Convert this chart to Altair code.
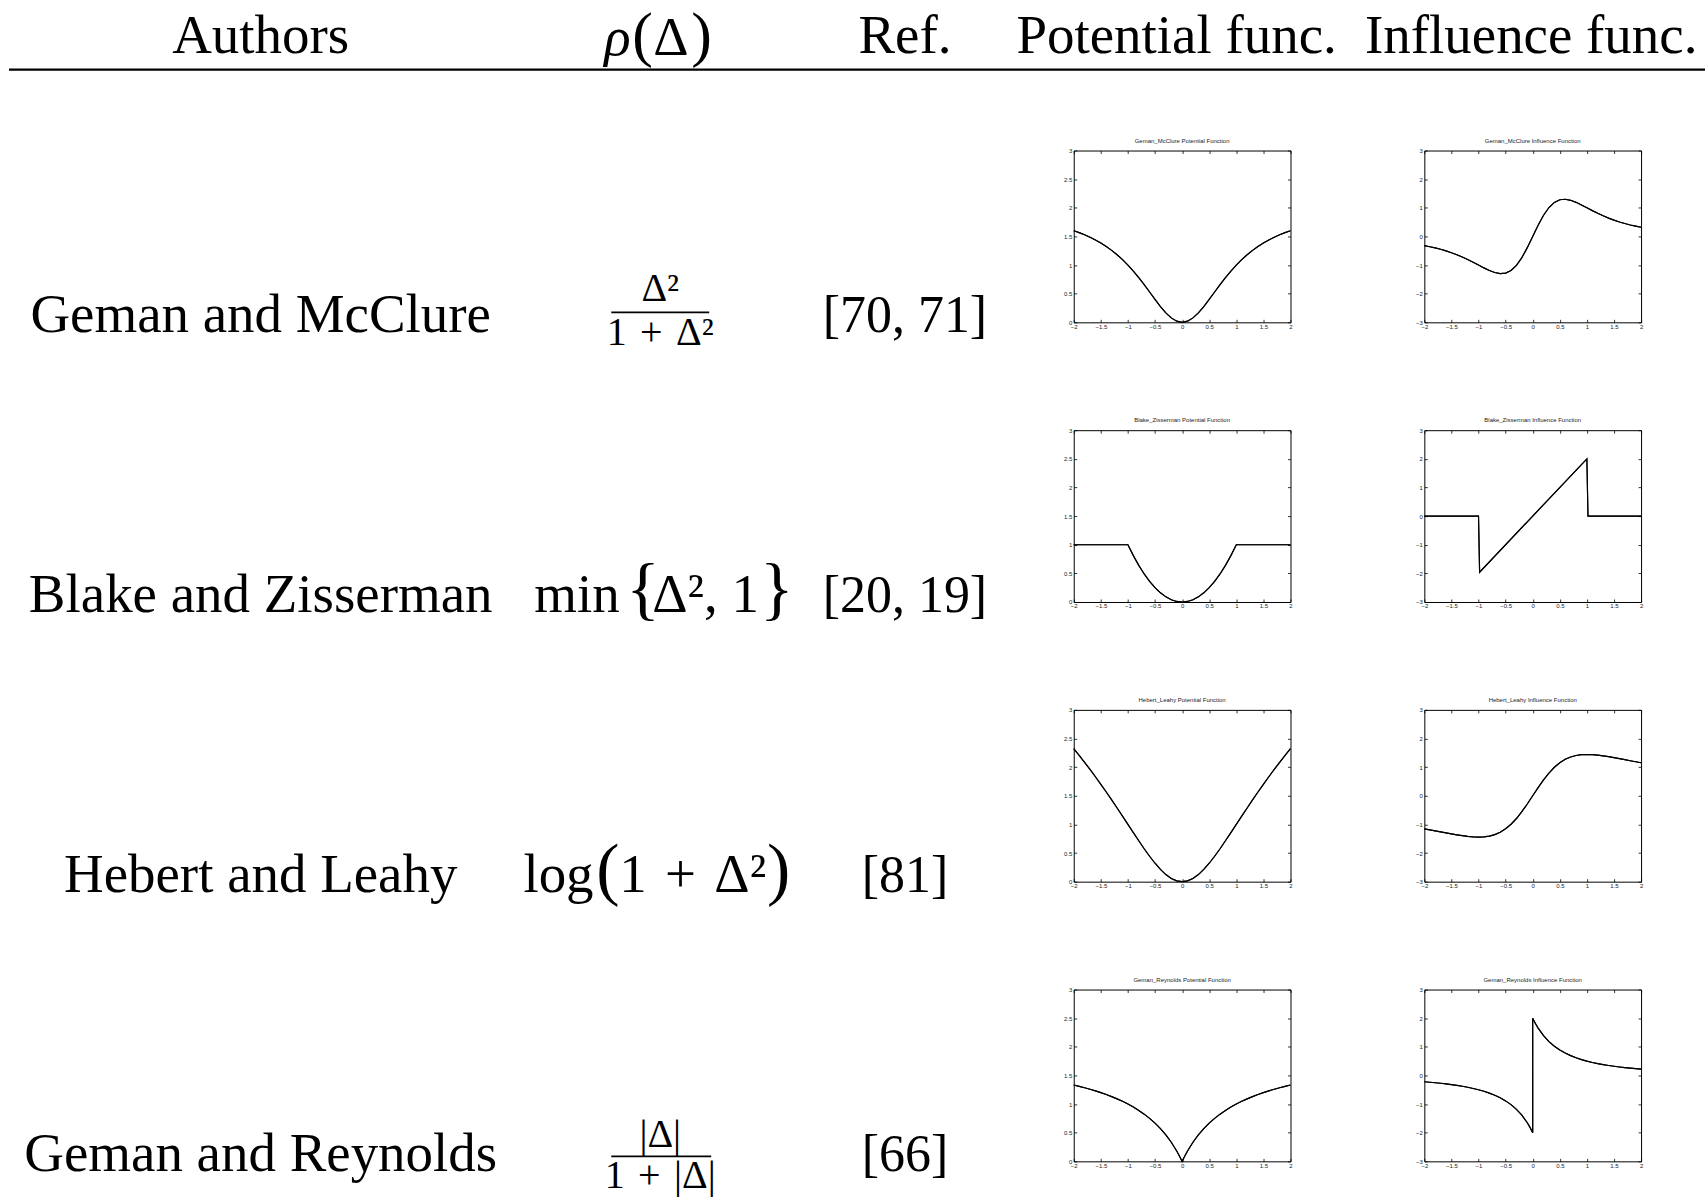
import altair as alt
import pandas as pd

# ---------------------------------------------------------------- table text
HEADERS = ["Authors", "Ref.", "Potential func.", "Influence func."]
AUTHORS = ["Geman and McClure", "Blake and Zisserman", "Hebert and Leahy", "Geman and Reynolds"]
REFS = ["[70, 71]", "[20, 19]", "[81]", "[66]"]
PANEL_NAMES = ["Geman_McClure", "Blake_Zisserman", "Hebert_Leahy", "Geman_Reynolds"]

# ---------------------------------------------------------------- sampled curves
X_GRID = [-2.0, -1.9, -1.8, -1.7, -1.6, -1.5, -1.4, -1.3, -1.2, -1.1, -1.0,
          -0.9, -0.8, -0.7, -0.6, -0.5, -0.4, -0.3, -0.2, -0.1, 0.0,
          0.1, 0.2, 0.3, 0.4, 0.5, 0.6, 0.7, 0.8, 0.9, 1.0,
          1.1, 1.2, 1.3, 1.4, 1.5, 1.6, 1.7, 1.8, 1.9, 2.0]

GM_POT = [1.6, 1.566, 1.528, 1.486, 1.438, 1.385, 1.324, 1.257, 1.18, 1.095, 1.0,
          0.895, 0.78, 0.658, 0.529, 0.4, 0.276, 0.165, 0.077, 0.02, 0.0,
          0.02, 0.077, 0.165, 0.276, 0.4, 0.529, 0.658, 0.78, 0.895, 1.0,
          1.095, 1.18, 1.257, 1.324, 1.385, 1.438, 1.486, 1.528, 1.566, 1.6]
GM_INF = [-0.32, -0.359, -0.4, -0.449, -0.505, -0.568, -0.639, -0.719, -0.806, -0.901, -1.0,
          -1.099, -1.19, -1.261, -1.298, -1.28, -1.189, -1.01, -0.74, -0.392, 0.0,
          0.392, 0.74, 1.01, 1.189, 1.28, 1.298, 1.261, 1.19, 1.099, 1.0,
          0.901, 0.806, 0.719, 0.639, 0.568, 0.505, 0.449, 0.4, 0.359, 0.32]

BZ_POT = [1.0, 1.0, 1.0, 1.0, 1.0, 1.0, 1.0, 1.0, 1.0, 1.0, 1.0,
          0.81, 0.64, 0.49, 0.36, 0.25, 0.16, 0.09, 0.04, 0.01, 0.0,
          0.01, 0.04, 0.09, 0.16, 0.25, 0.36, 0.49, 0.64, 0.81, 1.0,
          1.0, 1.0, 1.0, 1.0, 1.0, 1.0, 1.0, 1.0, 1.0, 1.0]
BZ_INF_X = [-2.0, -1.0, -0.98, 1.0, 1.02, 2.0]
BZ_INF = [0.0, 0.0, -1.96, 2.0, 0.0, 0.0]

HL_POT = [2.322, 2.205, 2.084, 1.96, 1.832, 1.7, 1.566, 1.428, 1.287, 1.144, 1.0,
          0.856, 0.714, 0.575, 0.444, 0.322, 0.214, 0.124, 0.057, 0.014, 0.0,
          0.014, 0.057, 0.124, 0.214, 0.322, 0.444, 0.575, 0.714, 0.856, 1.0,
          1.144, 1.287, 1.428, 1.566, 1.7, 1.832, 1.96, 2.084, 2.205, 2.322]
HL_INF = [-1.154, -1.189, -1.225, -1.261, -1.297, -1.332, -1.365, -1.394, -1.419, -1.436, -1.443,
          -1.435, -1.408, -1.356, -1.273, -1.154, -0.995, -0.794, -0.555, -0.286, 0.0,
          0.286, 0.555, 0.794, 0.995, 1.154, 1.273, 1.356, 1.408, 1.435, 1.443,
          1.436, 1.419, 1.394, 1.365, 1.332, 1.297, 1.261, 1.225, 1.189, 1.154]

GR_POT_X = [-2.0, -1.9, -1.8, -1.7, -1.6, -1.5, -1.4, -1.3, -1.2, -1.1, -1.0,
            -0.9, -0.8, -0.7, -0.6, -0.5, -0.4, -0.3, -0.2, -0.1, -0.05, 0.0, 0.05,
            0.1, 0.2, 0.3, 0.4, 0.5, 0.6, 0.7, 0.8, 0.9, 1.0,
            1.1, 1.2, 1.3, 1.4, 1.5, 1.6, 1.7, 1.8, 1.9, 2.0]
GR_POT = [1.333, 1.31, 1.286, 1.259, 1.231, 1.2, 1.167, 1.13, 1.091, 1.048, 1.0,
          0.947, 0.889, 0.824, 0.75, 0.667, 0.571, 0.462, 0.333, 0.182, 0.095, 0.0, 0.095,
          0.182, 0.333, 0.462, 0.571, 0.667, 0.75, 0.824, 0.889, 0.947, 1.0,
          1.048, 1.091, 1.13, 1.167, 1.2, 1.231, 1.259, 1.286, 1.31, 1.333]
GR_INF_X = [-2.0, -1.9, -1.8, -1.7, -1.6, -1.5, -1.4, -1.3, -1.2, -1.1, -1.0,
            -0.9, -0.8, -0.7, -0.6, -0.5, -0.4, -0.3, -0.2, -0.1, -0.05, 0.0, 0.0, 0.05,
            0.1, 0.2, 0.3, 0.4, 0.5, 0.6, 0.7, 0.8, 0.9, 1.0,
            1.1, 1.2, 1.3, 1.4, 1.5, 1.6, 1.7, 1.8, 1.9, 2.0]
GR_INF = [-0.222, -0.238, -0.255, -0.274, -0.296, -0.32, -0.347, -0.378, -0.413, -0.454, -0.5,
          -0.554, -0.617, -0.692, -0.781, -0.889, -1.02, -1.183, -1.389, -1.653, -1.814, -2.0, 2.0, 1.814,
          1.653, 1.389, 1.183, 1.02, 0.889, 0.781, 0.692, 0.617, 0.554, 0.5,
          0.454, 0.413, 0.378, 0.347, 0.32, 0.296, 0.274, 0.255, 0.238, 0.222]

X_TICKS = [-2, -1.5, -1, -0.5, 0, 0.5, 1, 1.5, 2]
POT_TICKS = [0, 0.5, 1, 1.5, 2, 2.5, 3]
INF_TICKS = [-3, -2, -1, 0, 1, 2, 3]

SERIF = "Liberation Serif"
SANS = "Liberation Sans"
MAIN = 55          # body text size
SMALL = 40         # fraction numerator / denominator size
SP = "\u2004"      # three-per-em space around binary operators
PANEL_W, PANEL_H = 217, 172
TABLE_W, HEAD_H = 941, 42


# ---------------------------------------------------------------- small plots
def panel(title, xs, ys, ydomain, yticks):
    df = pd.DataFrame({"x": xs, "y": ys, "i": list(range(len(xs)))})
    xscale = alt.Scale(domain=[-2, 2], nice=False, zero=False)
    yscale = alt.Scale(domain=ydomain, nice=False, zero=False)
    common = dict(format="~g", tickSize=3, offset=-3, title=None, grid=False,
                  domain=False, labelFlush=False, labelOverlap=False,
                  tickColor="black", tickWidth=0.8)
    base = alt.Chart(df).mark_line(color="black", strokeWidth=1.15)
    lower = base.encode(
        x=alt.X("x:Q", scale=xscale,
                axis=alt.Axis(values=X_TICKS, orient="bottom", labelPadding=1, **common)),
        y=alt.Y("y:Q", scale=yscale,
                axis=alt.Axis(values=yticks, orient="left", labelPadding=2, **common)),
        order="i:Q",
    )
    upper = base.encode(
        x=alt.X("x:Q", scale=xscale,
                axis=alt.Axis(values=X_TICKS, orient="top", labels=False, **common)),
        y=alt.Y("y:Q", scale=yscale,
                axis=alt.Axis(values=yticks, orient="right", labels=False, **common)),
        order="i:Q",
    )
    return (
        alt.layer(lower, upper)
        .resolve_axis(x="independent", y="independent")
        .properties(
            width=PANEL_W, height=PANEL_H,
            title=alt.TitleParams(title, font=SANS, fontSize=6, fontWeight="normal",
                                  color="#222", offset=4, anchor="middle"),
            view=alt.ViewBackground(stroke="black", strokeWidth=1),
        )
    )


def spacer(w, h):
    # an empty cell; its blank text sits in the middle so it adds nothing to the bounds
    return (
        alt.Chart(pd.DataFrame({"t": [""]}))
        .mark_text(fontSize=1)
        .encode(text="t:N", x=alt.value(w / 2), y=alt.value(h / 2))
        .properties(width=w, height=h)
    )


# ---------------------------------------------------------------- table
ROW_SCALE = alt.Scale(domain=[0, 3], range=[332, 1172])


def row_y():
    return alt.Y("row:Q", scale=ROW_SCALE, axis=None)


def text_layer(df, x, y, size=MAIN, align="center", dy=0, style="normal"):
    return (
        alt.Chart(df)
        .mark_text(font=SERIF, fontSize=size, align=align, baseline="alphabetic",
                   dy=dy, fontStyle=style, color="black")
        .encode(x=x, y=y, text="t:N")
    )


def piece(row, text, x, dy=0, size=MAIN, align="left"):
    df = pd.DataFrame({"row": [row], "t": [text]})
    return text_layer(df, alt.value(x), row_y(), size=size, align=align, dy=dy)


def frac_bar(row, x0, x1, offset):
    return (
        alt.Chart(pd.DataFrame({"row": [row]}))
        .mark_rule(color="black", strokeWidth=1.6, yOffset=offset)
        .encode(x=alt.value(x0), x2=alt.value(x1), y=row_y())
    )


layers = []
# header line
head_x = [261, 906, 1178, 1533]
for label, cx in zip(HEADERS, head_x):
    layers.append(text_layer(pd.DataFrame({"t": [label]}), alt.value(cx), alt.value(52)))
# rho(Delta) header
for t, x, size, style in [("ρ", 605, MAIN, "italic"), ("(", 633, 62, "normal"),
                          ("Δ", 654, MAIN, "normal"), (")", 692, 62, "normal")]:
    layers.append(text_layer(pd.DataFrame({"t": [t]}), alt.value(x), alt.value(54),
                             size=size, align="left", style=style))
layers.append(
    alt.Chart(pd.DataFrame({"t": [0]}))
    .mark_rule(color="black", strokeWidth=2.2)
    .encode(x=alt.value(9), x2=alt.value(1707), y=alt.value(69))
)

# authors and references
rows = list(range(len(AUTHORS)))
layers.append(text_layer(pd.DataFrame({"row": rows, "t": AUTHORS}), alt.value(261), row_y()))
layers.append(text_layer(pd.DataFrame({"row": rows, "t": REFS}), alt.value(906), row_y(), size=52))

# rho column: Geman and McClure
layers += [piece(0, "Δ²", 661, dy=-31, size=SMALL, align="center"),
           frac_bar(0, 612, 710, -20),
           piece(0, f"1{SP}+{SP}Δ²", 661, dy=13, size=SMALL, align="center")]
# Blake and Zisserman
layers += [piece(1, "min", 535), piece(1, "{", 627, size=70),
           piece(1, "Δ², 1", 653), piece(1, "}", 761, size=70)]
# Hebert and Leahy
layers += [piece(2, "log", 524), piece(2, "(", 597, size=70),
           piece(2, f"1{SP}+{SP}Δ²", 620), piece(2, ")", 768, size=70)]
# Geman and Reynolds
layers += [piece(3, "|Δ|", 661, dy=-24, size=SMALL, align="center"),
           frac_bar(3, 612, 712, -15),
           piece(3, f"1{SP}+{SP}|Δ|", 661, dy=17, size=SMALL, align="center")]

table = alt.layer(*layers).properties(width=TABLE_W, height=HEAD_H)

# ---------------------------------------------------------------- grid
curves = [
    (X_GRID, GM_POT, X_GRID, GM_INF),
    (X_GRID, BZ_POT, BZ_INF_X, BZ_INF),
    (X_GRID, HL_POT, X_GRID, HL_INF),
    (GR_POT_X, GR_POT, GR_INF_X, GR_INF),
]

cells = [table, spacer(PANEL_W, HEAD_H), spacer(PANEL_W, HEAD_H)]
for name, (px, py, ix, iy) in zip(PANEL_NAMES, curves):
    cells.append(spacer(TABLE_W, PANEL_H))
    cells.append(panel(f"{name} Potential Function", px, py, [0, 3], POT_TICKS))
    cells.append(panel(f"{name} Influence Function", ix, iy, [-3, 3], INF_TICKS))

chart = (
    alt.concat(*cells, columns=3, spacing={"row": 108, "column": 134},
               bounds="flush", align="each")
    .properties(padding=0, background="white")
    .configure_view(stroke=None)
    .configure_axis(labelFont=SANS, labelFontSize=6, labelColor="#222")
)

chart.save("out.html", embed_options={"renderer": "svg", "actions": False})
